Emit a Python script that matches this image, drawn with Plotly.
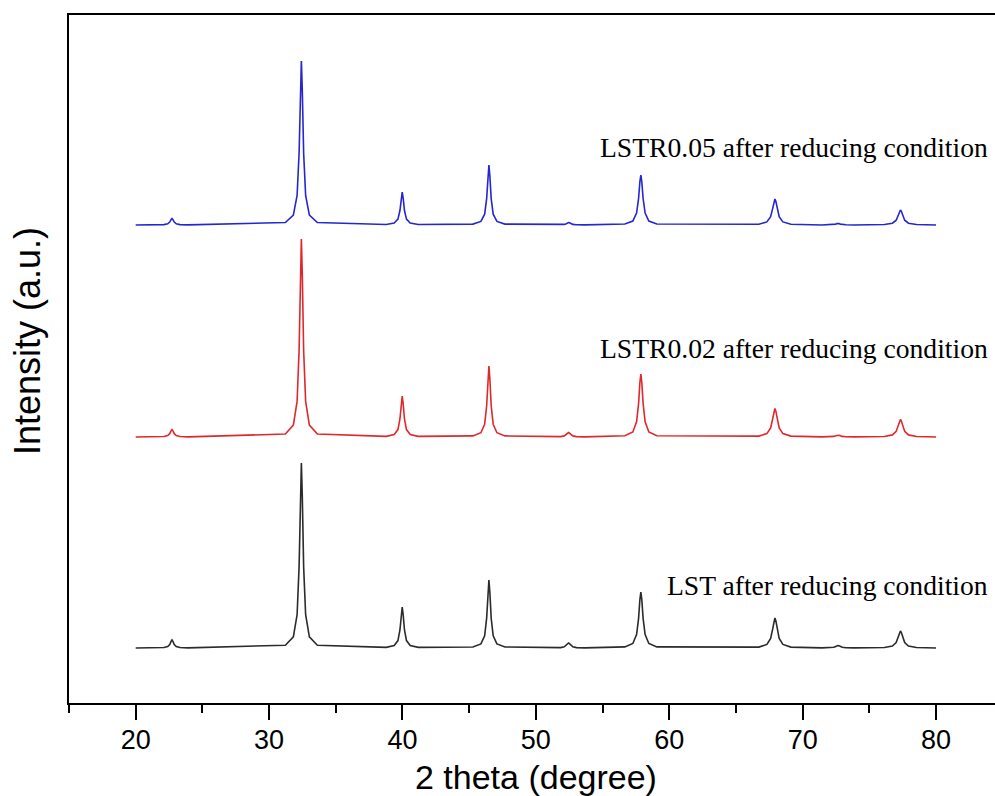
import plotly.graph_objects as go

# 2-theta sampling points (degrees), clustered around each reflection
two_theta = [
    20.00,
    21.52, 22.12, 22.40, 22.55, 22.65, 22.72, 22.79, 22.89, 23.04, 23.32, 23.92,
    31.22, 31.82, 32.10, 32.25, 32.35, 32.42, 32.49, 32.59, 32.74, 33.02, 33.62,
    38.78, 39.38, 39.66, 39.81, 39.91, 39.98, 40.05, 40.15, 40.30, 40.58, 41.18,
    45.28, 45.88, 46.16, 46.31, 46.41, 46.48, 46.55, 46.65, 46.80, 47.08, 47.68,
    51.25, 51.85, 52.13, 52.28, 52.38, 52.45, 52.52, 52.62, 52.77, 53.05, 53.65,
    56.67, 57.27, 57.55, 57.70, 57.80, 57.87, 57.94, 58.04, 58.19, 58.47, 59.07,
    66.72, 67.32, 67.60, 67.75, 67.85, 67.92, 67.99, 68.09, 68.24, 68.52, 69.12,
    71.45, 72.05, 72.33, 72.48, 72.58, 72.65, 72.72, 72.82, 72.97, 73.25, 73.85,
    76.13, 76.73, 77.01, 77.16, 77.26, 77.33, 77.40, 77.50, 77.65, 77.93, 78.53,
    80.00,
]

# Background-subtracted intensities (a.u.)
lst_intensity = [
    0.0,
    0.1, 0.5, 1.4, 3.5, 6.6, 8.0, 6.6, 3.5, 1.4, 0.5, 0.1,
    2.8, 11.1, 33.3, 81.4, 151.7, 185.0, 151.7, 81.4, 33.3, 11.1, 2.8,
    0.6, 2.5, 7.4, 18.0, 33.6, 41.0, 33.6, 18.0, 7.4, 2.5, 0.6,
    1.0, 4.1, 12.2, 29.9, 55.8, 68.0, 55.8, 29.9, 12.2, 4.1, 1.0,
    0.1, 0.4, 1.2, 2.7, 4.4, 5.0, 4.4, 2.7, 1.2, 0.4, 0.1,
    1.1, 4.5, 13.4, 29.7, 48.7, 56.0, 48.7, 29.7, 13.4, 4.5, 1.1,
    0.9, 3.6, 9.6, 18.9, 27.3, 30.0, 27.3, 18.9, 9.6, 3.6, 0.9,
    0.1, 0.3, 0.8, 1.6, 2.3, 2.5, 2.3, 1.6, 0.8, 0.3, 0.1,
    0.5, 2.0, 5.4, 10.7, 15.5, 17.0, 15.5, 10.7, 5.4, 2.0, 0.5,
    0.0,
]

lstr002_intensity = [
    0.0,
    0.1, 0.5, 1.4, 3.3, 6.2, 7.5, 6.2, 3.3, 1.4, 0.5, 0.1,
    3.0, 11.9, 35.6, 87.1, 162.4, 198.0, 162.4, 87.1, 35.6, 11.9, 3.0,
    0.6, 2.5, 7.4, 18.0, 33.6, 41.0, 33.6, 18.0, 7.4, 2.5, 0.6,
    1.1, 4.3, 12.8, 31.2, 58.2, 71.0, 58.2, 31.2, 12.8, 4.3, 1.1,
    0.1, 0.4, 1.1, 2.4, 3.9, 4.5, 3.9, 2.4, 1.1, 0.4, 0.1,
    1.3, 5.0, 15.1, 33.4, 54.8, 63.0, 54.8, 33.4, 15.1, 5.0, 1.3,
    0.9, 3.4, 9.1, 18.0, 25.9, 28.5, 25.9, 18.0, 9.1, 3.4, 0.9,
    0.1, 0.2, 0.6, 1.3, 1.8, 2.0, 1.8, 1.3, 0.6, 0.2, 0.1,
    0.5, 2.1, 5.6, 11.0, 15.9, 17.5, 15.9, 11.0, 5.6, 2.1, 0.5,
    0.0,
]

lstr005_intensity = [
    0.0,
    0.1, 0.4, 1.2, 2.9, 5.3, 6.5, 5.3, 2.9, 1.2, 0.4, 0.1,
    2.5, 9.8, 29.5, 72.2, 134.5, 164.0, 134.5, 72.2, 29.5, 9.8, 2.5,
    0.5, 2.0, 5.9, 14.5, 27.1, 33.0, 27.1, 14.5, 5.9, 2.0, 0.5,
    0.9, 3.6, 10.8, 26.4, 49.2, 60.0, 49.2, 26.4, 10.8, 3.6, 0.9,
    0.1, 0.2, 0.6, 1.3, 2.2, 2.5, 2.2, 1.3, 0.6, 0.2, 0.1,
    1.0, 4.0, 12.0, 26.5, 43.5, 50.0, 43.5, 26.5, 12.0, 4.0, 1.0,
    0.8, 3.1, 8.3, 16.4, 23.7, 26.0, 23.7, 16.4, 8.3, 3.1, 0.8,
    0.0, 0.2, 0.5, 0.9, 1.4, 1.5, 1.4, 0.9, 0.5, 0.2, 0.0,
    0.5, 1.8, 4.8, 9.5, 13.7, 15.0, 13.7, 9.5, 4.8, 1.8, 0.5,
    0.0,
]

sample_labels = [
    "LST after reducing condition",
    "LSTR0.02 after reducing condition",
    "LSTR0.05 after reducing condition",
]
# vertical stacking offsets of each pattern (a.u.)
stack_offsets = [55, 266, 478]
# label heights (a.u.)
label_y = [118, 355, 556]
line_colors = ["#2b2b2b", "#e0282c", "#2626d0"]

patterns = [lst_intensity, lstr002_intensity, lstr005_intensity]

fig = go.Figure()
for name, inten, off, col in zip(sample_labels, patterns, stack_offsets, line_colors):
    fig.add_trace(go.Scatter(
        x=two_theta,
        y=[v + off for v in inten],
        mode="lines",
        name=name,
        line=dict(color=col, width=1.6),
        showlegend=False,
    ))

sans = "Arial, Liberation Sans, sans-serif"
serif = "Times New Roman, Liberation Serif, serif"

annotations = []
for name, ly in zip(sample_labels, label_y):
    annotations.append(dict(
        text=name, xref="paper", yref="y", x=0.9946, y=ly,
        xanchor="right", yanchor="middle", showarrow=False,
        font=dict(family=serif, size=27.6, color="black"),
    ))

# axis titles
annotations.append(dict(
    text="Intensity (a.u.)", xref="paper", yref="paper",
    x=-0.0454, y=0.526, xanchor="center", yanchor="middle",
    textangle=-90, showarrow=False,
    font=dict(family=sans, size=36, color="black"),
))
annotations.append(dict(
    text="2 theta (degree)", xref="paper", yref="paper",
    x=0.504, y=-0.107, xanchor="center", yanchor="middle",
    showarrow=False,
    font=dict(family=sans, size=34, color="black"),
))

fig.update_layout(
    width=995, height=796,
    margin=dict(l=69, r=0, t=15, b=93),
    paper_bgcolor="white", plot_bgcolor="white",
    annotations=annotations,
    xaxis=dict(
        range=[15, 84.42],
        showline=True, linecolor="black", linewidth=2, mirror=True,
        ticks="outside", ticklen=15, tickwidth=2, tickcolor="black",
        tick0=0, dtick=10,
        tickfont=dict(family=sans, size=27, color="black"),
        ticklabelstandoff=-3,
        showgrid=False, zeroline=False,
        minor=dict(ticks="outside", ticklen=8, tickwidth=2, tickcolor="black",
                   tick0=15, dtick=5, showgrid=False),
    ),
    yaxis=dict(
        range=[0, 688],
        showline=True, linecolor="black", linewidth=2, mirror=False,
        ticks="", showticklabels=False,
        showgrid=False, zeroline=False,
    ),
)

fig.write_html("out.html")
